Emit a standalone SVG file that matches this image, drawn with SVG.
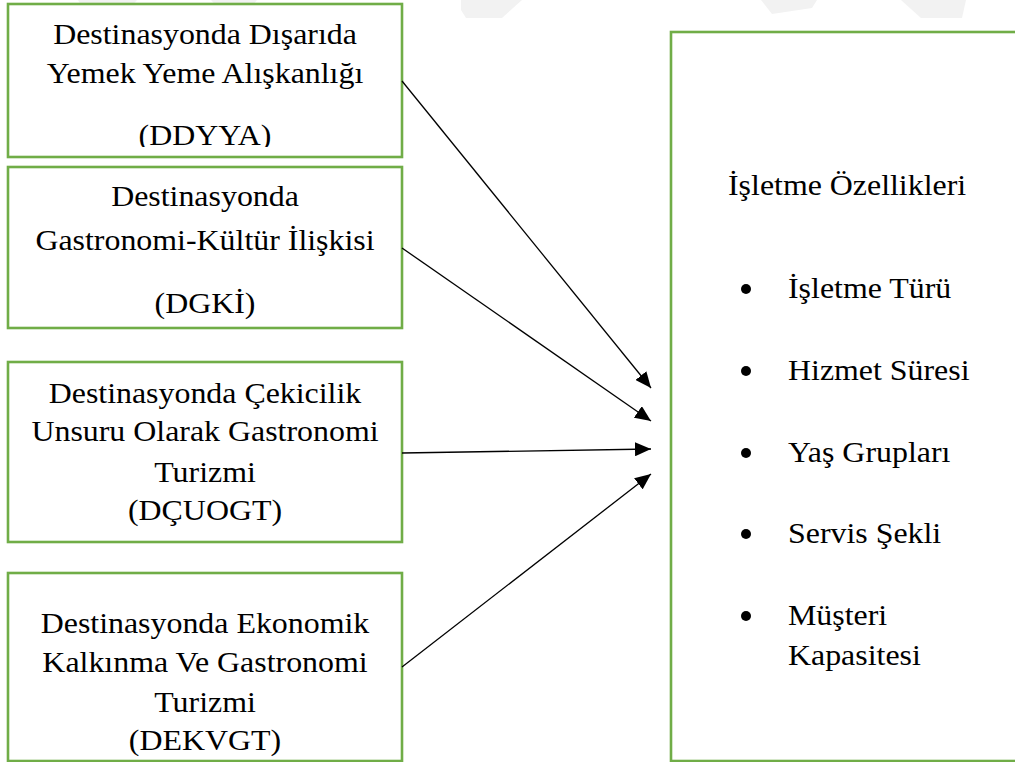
<svg xmlns="http://www.w3.org/2000/svg" width="1015" height="762" viewBox="0 0 1015 762">
  <defs>
    <style>
      .box { fill: #ffffff; stroke: #70ad47; stroke-width: 2.6; }
      .lbl { font-family: "Liberation Serif", "Times New Roman", serif; font-size: 29px; fill: #000000; }
      .mid { text-anchor: middle; }
      .conn { stroke: #000000; stroke-width: 1.3; fill: none; marker-end: url(#head); }
      .mark { fill: #f2f2f2; }
    </style>
    <marker id="head" markerUnits="userSpaceOnUse" markerWidth="16" markerHeight="14" refX="16" refY="7" orient="auto">
      <path d="M0,0 L16,7 L0,14 z" fill="#000000"/>
    </marker>
    <clipPath id="clip-ddyya">
      <rect x="8" y="4" width="394" height="143"/>
    </clipPath>
  </defs>

  <rect width="1015" height="762" fill="#ffffff"/>

  <!-- faint background marks along the top edge -->
  <g id="bg-marks">
    <polygon class="mark" points="78,0 137,0 128,10 84,10"/>
    <polygon class="mark" points="211,0 257,0 250,8 218,8"/>
    <polygon class="mark" points="461,0 522,0 502,18 466,18 461,10"/>
    <polygon class="mark" points="761,0 817,0 812,8 772,14"/>
    <polygon class="mark" points="901,0 966,0 962,18 921,18"/>
  </g>

  <!-- left column: source boxes -->
  <g id="node-ddyya">
    <rect class="box" x="8" y="4" width="394" height="153"/>
    <g clip-path="url(#clip-ddyya)">
      <g class="lbl mid" transform="translate(205 0) scale(1.1 1)">
        <text x="0" y="44">Destinasyonda Dışarıda</text>
        <text x="0" y="83">Yemek Yeme Alışkanlığı</text>
        <text x="0" y="145">(DDYYA)</text>
      </g>
    </g>
  </g>

  <g id="node-dgki">
    <rect class="box" x="8" y="167" width="394" height="161"/>
    <g class="lbl mid" transform="translate(205 0) scale(1.1 1)">
      <text x="0" y="206">Destinasyonda</text>
      <text x="0" y="250">Gastronomi-Kültür İlişkisi</text>
      <text x="0" y="313">(DGKİ)</text>
    </g>
  </g>

  <g id="node-dcuogt">
    <rect class="box" x="8" y="362" width="394" height="180"/>
    <g class="lbl mid" transform="translate(205 0) scale(1.1 1)">
      <text x="0" y="403">Destinasyonda Çekicilik</text>
      <text x="0" y="441">Unsuru Olarak Gastronomi</text>
      <text x="0" y="482">Turizmi</text>
      <text x="0" y="520">(DÇUOGT)</text>
    </g>
  </g>

  <g id="node-dekvgt">
    <rect class="box" x="8" y="573" width="394" height="188"/>
    <g class="lbl mid" transform="translate(205 0) scale(1.1 1)">
      <text x="0" y="633">Destinasyonda Ekonomik</text>
      <text x="0" y="672">Kalkınma Ve Gastronomi</text>
      <text x="0" y="712">Turizmi</text>
      <text x="0" y="750">(DEKVGT)</text>
    </g>
  </g>

  <!-- right column: business characteristics -->
  <g id="node-isletme">
    <rect class="box" x="671" y="32" width="370" height="729"/>
    <g class="lbl" transform="translate(728 0) scale(1.1 1)">
      <text x="0" y="195">İşletme Özellikleri</text>
    </g>
    <g fill="#000000">
      <circle cx="746" cy="289" r="5"/>
      <circle cx="746" cy="371" r="5"/>
      <circle cx="746" cy="453" r="5"/>
      <circle cx="746" cy="534" r="5"/>
      <circle cx="746" cy="616" r="5"/>
    </g>
    <g class="lbl" transform="translate(788 0) scale(1.1 1)">
      <text x="0" y="298">İşletme Türü</text>
      <text x="0" y="380">Hizmet Süresi</text>
      <text x="0" y="462">Yaş Grupları</text>
      <text x="0" y="543">Servis Şekli</text>
      <text x="0" y="625">Müşteri</text>
      <text x="0" y="665">Kapasitesi</text>
    </g>
  </g>

  <!-- connectors -->
  <g id="connectors">
    <line class="conn" x1="402" y1="81" x2="651" y2="388"/>
    <line class="conn" x1="402" y1="248" x2="651" y2="421"/>
    <line class="conn" x1="402" y1="453" x2="651" y2="449"/>
    <line class="conn" x1="402" y1="667" x2="651" y2="474"/>
  </g>
</svg>
